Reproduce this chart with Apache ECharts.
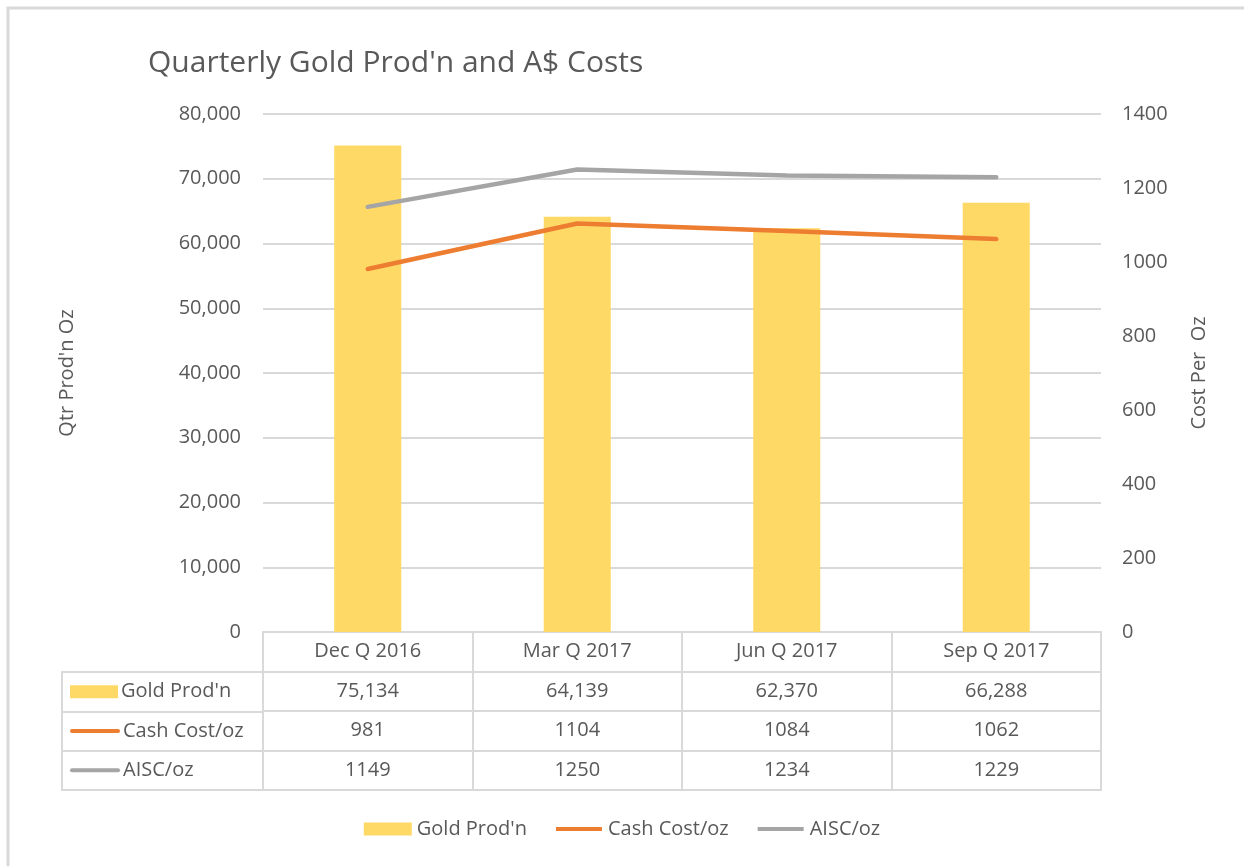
<!DOCTYPE html>
<html>
<head>
<meta charset="utf-8">
<title>Quarterly Gold Prod'n and A$ Costs</title>
<script src="https://cdn.jsdelivr.net/npm/echarts@6/dist/echarts.min.js"></script>
<style>
  html, body { margin: 0; padding: 0; background: #fff; }
  #main { width: 1244px; height: 866px; }
</style>
</head>
<body>
<div id="main"></div>
<script>
// data
var quarters = ['Dec Q 2016', 'Mar Q 2017', 'Jun Q 2017', 'Sep Q 2017'];
var goldProd = [75134, 64139, 62370, 66288];
var cashCost = [981, 1104, 1084, 1062];
var aiscCost = [1149, 1250, 1234, 1229];
var seriesNames = ["Gold Prod'n", 'Cash Cost/oz', 'AISC/oz'];

var textColor = '#595959';
var lineGrey = '#d9d9d9';
var font = 'Open Sans';
var colors = ['#FFD966', '#ED7D31', '#A5A5A5'];

// legend icons: a solid block for the bars, a thick line for the lines
// (the two tiny segments just keep the icon box 48x13 so the line is not stretched)
var barIcon = 'path://M0,0 L48,0 L48,13 L0,13 Z';
var lineIcon = 'path://M0,0 L0.01,0 M48,13 L48.01,13 M1,4.5 L47,4.5 L47,8.5 L1,8.5 Z';

function fmt(n) {
  return n.toLocaleString('en-US');
}

// cells of the data table under the chart (row 0 is the header row)
var tableRows = [goldProd.map(fmt), cashCost.map(String), aiscCost.map(String)];
var tableCells = [];
tableRows.forEach(function (row, r) {
  row.forEach(function (txt, c) {
    tableCells.push({ value: [c, r + 1], text: txt });
  });
});

var chartDom = document.getElementById('main');
var myChart = echarts.init(chartDom);

var option = {
  backgroundColor: '#fff',
  textStyle: { fontFamily: font, color: textColor },
  title: {
    text: "Quarterly Gold Prod'n and A$ Costs",
    left: 143,
    top: 43,
    textStyle: { fontFamily: font, fontSize: 30, fontWeight: 'normal', color: textColor }
  },
  legend: {
    data: [
      { name: seriesNames[0], icon: barIcon },
      { name: seriesNames[1], icon: lineIcon },
      { name: seriesNames[2], icon: lineIcon }
    ],
    bottom: 22,
    left: 'center',
    itemWidth: 48,
    itemHeight: 13,
    itemGap: 28,
    textStyle: { fontFamily: font, fontSize: 20, color: textColor }
  },
  graphic: [
    {
      type: 'polyline',
      shape: { points: [[8, 866], [8, 8], [1244, 8]] },
      style: { stroke: lineGrey, lineWidth: 3, fill: null },
      silent: true
    }
  ],
  grid: [
    // main plot
    { left: 263, right: 143, top: 114, height: 518 },
    // table: label column
    { left: 62, width: 201, top: 672, height: 118, show: true, borderColor: lineGrey, borderWidth: 2 },
    // table: value columns with header row
    { left: 263, right: 143, top: 632, height: 158, show: true, borderColor: lineGrey, borderWidth: 2 }
  ],
  xAxis: [
    {
      type: 'category',
      gridIndex: 0,
      data: quarters,
      axisLine: { show: false },
      axisTick: { show: false },
      axisLabel: { fontSize: 20, color: textColor, margin: 9, fontFamily: font }
    },
    { type: 'value', gridIndex: 1, show: false },
    {
      type: 'category',
      gridIndex: 2,
      data: quarters,
      axisLine: { show: false },
      axisTick: { show: false },
      axisLabel: { show: false },
      splitLine: { show: true, interval: 0, lineStyle: { color: lineGrey, width: 2 } }
    }
  ],
  yAxis: [
    {
      type: 'value',
      gridIndex: 0,
      min: 0,
      max: 80000,
      interval: 10000,
      name: "Qtr Prod'n Oz",
      nameLocation: 'middle',
      nameGap: 186,
      nameTextStyle: { fontSize: 20, color: textColor, fontFamily: font },
      axisLine: { show: false },
      axisTick: { show: false },
      axisLabel: { fontSize: 20, color: textColor, margin: 22, formatter: function (v) { return fmt(v); } },
      splitLine: { lineStyle: { color: lineGrey, width: 2 } }
    },
    {
      type: 'value',
      gridIndex: 0,
      position: 'right',
      min: 0,
      max: 1400,
      interval: 200,
      name: 'Cost Per  Oz',
      nameLocation: 'middle',
      nameGap: 88,
      nameTextStyle: { fontSize: 20, color: textColor, fontFamily: font },
      axisLine: { show: false },
      axisTick: { show: false },
      axisLabel: { fontSize: 20, color: textColor, margin: 21, formatter: function (v) { return String(v); } },
      splitLine: { show: false }
    },
    {
      type: 'category',
      gridIndex: 1,
      inverse: true,
      data: seriesNames,
      axisLine: { show: false },
      axisTick: { show: false },
      splitLine: { show: true, interval: 0, lineStyle: { color: lineGrey, width: 2 } },
      axisLabel: {
        inside: true,
        margin: 8,
        interval: 0,
        fontSize: 20,
        color: textColor,
        formatter: function (v, i) {
          return ['{bar|}', '{ln1|}', '{ln2|}'][i] + '{t|' + v + '}';
        },
        rich: {
          bar: { width: 48, height: 13, backgroundColor: colors[0] },
          ln1: { width: 50, height: 4, backgroundColor: colors[1], borderRadius: 2 },
          ln2: { width: 50, height: 4, backgroundColor: colors[2], borderRadius: 2 },
          t: { fontSize: 20, color: textColor, fontFamily: font, padding: [0, 0, 0, 3] }
        }
      }
    },
    {
      type: 'category',
      gridIndex: 2,
      inverse: true,
      data: ['', 'gold', 'cash', 'aisc'],
      axisLine: { show: false },
      axisTick: { show: false },
      axisLabel: { show: false },
      splitLine: { show: true, interval: 0, lineStyle: { color: lineGrey, width: 2 } }
    }
  ],
  series: [
    {
      name: seriesNames[0],
      type: 'bar',
      xAxisIndex: 0,
      yAxisIndex: 0,
      barWidth: '32%',
      itemStyle: { color: colors[0] },
      data: goldProd
    },
    {
      name: seriesNames[1],
      type: 'line',
      xAxisIndex: 0,
      yAxisIndex: 1,
      symbol: 'none',
      lineStyle: { color: colors[1], width: 4.5, cap: 'round' },
      itemStyle: { color: colors[1] },
      data: cashCost
    },
    {
      name: seriesNames[2],
      type: 'line',
      xAxisIndex: 0,
      yAxisIndex: 1,
      symbol: 'none',
      lineStyle: { color: colors[2], width: 4.5, cap: 'round' },
      itemStyle: { color: colors[2] },
      data: aiscCost
    },
    {
      name: 'table',
      type: 'scatter',
      xAxisIndex: 2,
      yAxisIndex: 3,
      silent: true,
      symbolSize: 0,
      itemStyle: { color: '#fff', opacity: 1 },
      emphasis: { disabled: true },
      label: {
        show: true,
        position: 'inside',
        fontSize: 20,
        color: textColor,
        opacity: 1,
        fontFamily: font,
        formatter: function (p) { return p.data.text; }
      },
      data: tableCells
    }
  ]
};

option && myChart.setOption(option);
</script>
</body>
</html>
